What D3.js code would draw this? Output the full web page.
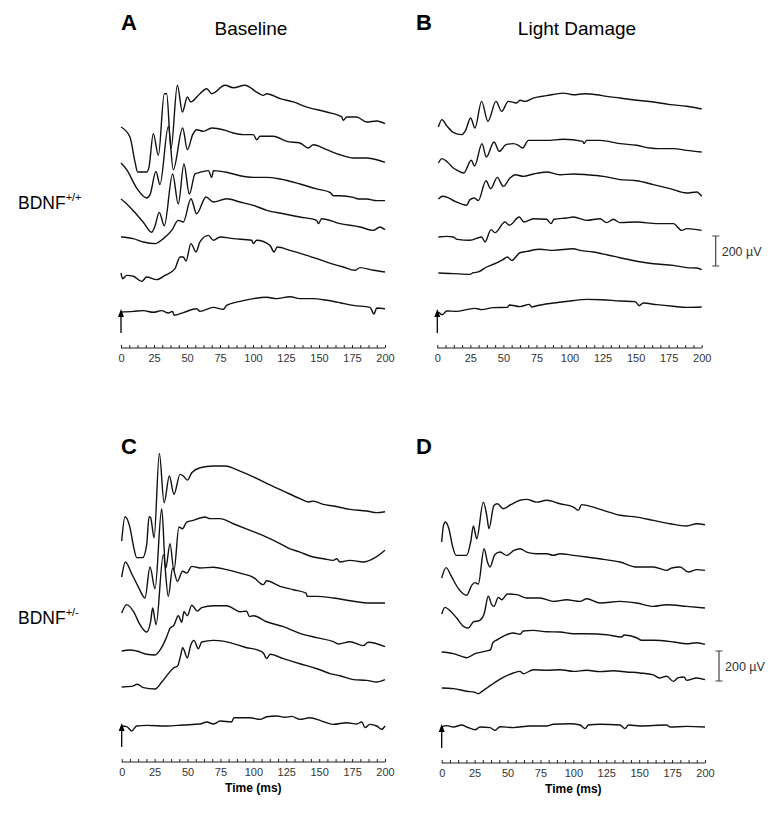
<!DOCTYPE html>
<html>
<head>
<meta charset="utf-8">
<script src="https://cdn.jsdelivr.net/npm/d3@7"></script>
<style>
  body { margin: 0; background: #fff; }
  svg { display: block; font-family: "Liberation Sans", Arial, sans-serif; }
</style>
</head>
<body>
<div id="chart"></div>
<script>
// ERG traces, [time ms, amplitude uV] relative to each trace's start, top trace first

var baselineWT = [
  [[0,0],[6.8,-67],[10.6,-233],[12.6,-300],[19.4,-300],[21.2,-267],[24.5,-44],[28.3,-189],[32.8,222],[34.6,222],[37.9,-144],[42.7,278],[46.5,100],[50.3,200],[52.8,167],[59.8,222],[64.9,255],[68.7,222],[78.8,278],[85.1,262],[93.9,278],[102.8,233],[107.8,211],[110.4,222],[120.5,189],[130.6,167],[140.7,133],[155.8,100],[167.2,67],[168.4,44],[171,67],[178.5,67],[186.1,33],[193.7,40],[200,22]],
  [[0,0],[4.3,-44],[11.9,-167],[19.4,-233],[22,-211],[26.5,-56],[29.5,-144],[35.9,244],[39.6,-44],[46.7,233],[50.3,89],[54.3,189],[57.3,222],[62.4,211],[68.7,233],[77.5,222],[85.1,200],[92.7,189],[100.3,189],[102.8,155],[105.3,178],[115.4,178],[125.5,144],[135.6,133],[141.9,100],[145.7,122],[155.8,89],[165.9,55],[176,33],[186.1,33],[193.7,22],[200,4]],
  [[0,0],[3,-22],[9.3,-78],[16.9,-155],[23.2,-222],[25.8,-178],[29,-89],[32.8,-178],[39.1,167],[43.4,-33],[47.7,233],[51.8,33],[56.1,167],[59.8,178],[66.2,189],[68.7,144],[70,189],[80,178],[90.2,155],[100.3,144],[110.4,144],[120.5,133],[135.6,100],[148.2,67],[158.3,44],[160.9,22],[165.9,22],[176,11],[179.8,0],[186.1,0],[193.7,-11],[200,-11]],
  [[0,0],[9.3,-11],[16.9,-33],[25.8,-44],[32.1,-11],[38.4,44],[43.4,111],[47.2,100],[53,255],[57.3,155],[64.4,267],[70,233],[80,255],[90.2,233],[100.3,211],[110.4,178],[123,155],[135.6,133],[148.2,111],[149.5,89],[152,122],[165.9,89],[181.1,67],[191.2,44],[196.2,67],[200,49]],
  [[0,0],[1.3,-38],[4.3,-16],[9.3,-22],[15.7,-56],[19.4,-27],[27,-44],[33.3,-16],[40.9,29],[44.7,107],[47.2,107],[49.2,80],[53,196],[56.8,140],[59.8,207],[66.2,251],[70,218],[75,240],[85.1,229],[99,218],[100.3,196],[102.8,218],[112.9,184],[115.9,140],[118.4,173],[128,151],[140.7,118],[155.8,73],[168.4,40],[177.3,18],[181.1,36],[191.2,18],[200,7]],
  [[0,0],[9.3,4],[16.9,9],[24.5,-2],[30.8,9],[35.9,-7],[39.1,4],[40.2,-22],[47.2,-4],[57.3,22],[59.8,4],[70,31],[77.5,18],[80,44],[90.2,71],[100.3,89],[110.4,98],[117.9,89],[128,102],[135.6,89],[145.7,89],[155.8,78],[165.9,62],[176,44],[188.6,31],[191.7,-13],[193.7,27],[200,22]]
];

var lightDamageWT = [
  [[0.8,0],[3.5,49],[7.1,9],[12.1,-36],[18.4,-51],[21.4,-22],[25.2,60],[28.5,-7],[33.5,171],[38.3,38],[44.4,171],[48.7,104],[53.7,171],[60,160],[62.5,178],[66.3,171],[72.6,193],[82.7,209],[95.3,226],[102.9,215],[111.7,222],[120.6,215],[128.1,204],[138.2,193],[150.8,178],[163.4,167],[176,149],[188.7,138],[200,120]],
  [[0.8,0],[3.5,29],[7.6,7],[12.1,-33],[15.1,-49],[19.9,-67],[25.7,18],[28.2,-20],[33.8,129],[37.1,40],[42.9,140],[46.9,78],[52,122],[57.5,129],[61.3,118],[64.6,100],[68.9,151],[82.7,151],[95.3,158],[110,144],[111,129],[113,151],[123.1,151],[138.2,129],[150.8,118],[160.9,100],[167.2,96],[178.6,96],[188.7,84],[200,73]],
  [[0.8,0],[4,18],[7.6,11],[13.4,-16],[22.2,-42],[24.7,-4],[28,7],[31,-11],[36.8,122],[40.4,69],[45.4,144],[49.9,84],[55,140],[58.8,162],[65.1,151],[72.6,167],[82.7,180],[92.8,162],[103,167],[113,162],[125.6,151],[138.2,129],[150.8,122],[163.4,96],[176,69],[188.7,40],[196.2,47],[200,18]],
  [[0.8,0],[7.1,4],[12.1,0],[15.1,-16],[24.7,-22],[33.5,0],[36.1,-33],[40.6,49],[43.6,29],[51.2,100],[54.5,78],[62,133],[65.6,100],[72.6,122],[82.7,118],[86,89],[88.3,118],[97.9,127],[102.9,133],[113,111],[123.1,122],[128.1,96],[133.2,118],[138.2,96],[150.8,100],[165.9,89],[178.6,89],[184.9,44],[188.7,56],[200,44]],
  [[0.8,0],[12.1,-4],[24.7,-9],[27.2,2],[31,7],[37.3,40],[44.9,67],[49.9,91],[53,107],[56.2,84],[62.5,135],[67.6,144],[77.7,158],[87.8,151],[102.9,162],[107.9,151],[118,140],[128.1,122],[138.2,102],[150.8,78],[163.4,62],[178.6,51],[188.7,36],[196.2,33],[200,22]],
  [[0.8,0],[3.8,-18],[7.1,7],[14.6,4],[22.2,16],[28.5,24],[33.5,16],[42.4,29],[53,31],[54.5,47],[62.5,36],[69.6,51],[71.4,33],[75.2,42],[87.8,60],[100.4,73],[113,84],[124.3,82],[138.2,73],[149.6,69],[152.8,42],[155.8,60],[165.9,49],[178.6,38],[188.7,31],[200,33]]
];

var baselineHet = [
  [[0,0],[2.5,162],[6.3,89],[8.9,-33],[11.4,-111],[15.9,-111],[19,-22],[20.8,162],[22,155],[24.6,22],[28.6,584],[32.2,255],[36.2,433],[39.7,311],[44.3,444],[46.8,433],[49.9,406],[53.2,455],[59.5,488],[69.6,500],[78.5,500],[89.9,466],[100,428],[110.1,384],[122.8,333],[135.4,282],[141.8,260],[145.6,266],[153.2,244],[160.8,233],[173.4,211],[186.1,200],[193.7,189],[200,195]],
  [[0,0],[2.8,100],[7.6,22],[12.7,-67],[17.7,-140],[21.5,67],[25.3,-78],[30.4,455],[33.4,56],[36.7,222],[39.7,44],[43.5,333],[46.1,322],[49.4,366],[54.4,378],[59.5,393],[63.3,400],[67.1,389],[74.7,389],[84.8,355],[97.5,311],[110.1,266],[122.8,211],[126.6,193],[135.4,166],[145.6,133],[153.2,122],[160.8,111],[163.3,122],[165.8,100],[173.4,111],[183.5,100],[191.1,122],[200,178]],
  [[0,0],[3.8,56],[8.9,11],[13.9,-78],[19,-127],[22,-56],[23.5,33],[26.1,-78],[31.6,389],[35.4,111],[38.7,300],[42.3,211],[46.3,278],[49.4,266],[53.2,311],[59.5,300],[69.6,305],[79.7,289],[89.9,266],[100,238],[107.6,189],[110.1,215],[120.3,178],[130.4,155],[140,133],[141,111],[148.1,111],[160.8,100],[173.4,82],[186.1,67],[200,67]],
  [[0,0],[6.3,7],[11.4,0],[19,-22],[25.3,-27],[29.6,13],[33.7,84],[36.7,151],[39.7,173],[43,235],[45.6,191],[47.3,262],[49.9,235],[53.2,306],[57.5,266],[60.8,289],[69.6,302],[79.7,302],[89.9,262],[94.9,266],[97,229],[100,235],[110.1,195],[122.8,162],[135.4,118],[148.1,89],[160.8,62],[164.6,47],[173.4,62],[183.5,36],[187.3,58],[200,29]],
  [[0,0],[7.6,4],[11.9,18],[16.5,-4],[25.3,-13],[30.4,33],[35.4,89],[39.7,129],[42.3,138],[44.8,211],[46.3,262],[49.9,195],[52.4,278],[54.9,311],[58.2,255],[60.8,300],[69.6,311],[77.2,306],[84.8,289],[94.9,262],[102.5,249],[107.6,226],[110.1,189],[112.7,218],[122.8,189],[135.4,155],[145.6,129],[150.6,115],[158.2,89],[165.8,75],[176,49],[186.1,44],[193.7,33],[200,49]],
  [[0,0],[3.8,-4],[7.6,-33],[11.4,0],[19,4],[34.2,0],[46.8,7],[59.5,13],[64.6,27],[69.6,13],[74.7,33],[83.5,27],[85.3,55],[97.5,55],[105.1,44],[110.1,62],[117.7,67],[124.1,58],[129.1,64],[135.4,44],[143,55],[151.9,33],[160.8,11],[170.9,22],[178.5,13],[182.3,27],[184.8,-11],[188.6,11],[193.7,0],[197.5,-22],[200,0]]
];

var lightDamageHet = [
  [[0,0],[1.3,107],[2.8,133],[5.3,93],[8.4,-33],[10.9,-89],[19,-89],[22,0],[24.1,107],[26.6,22],[31.6,266],[34.2,178],[35.9,89],[39.7,244],[42.3,255],[46.8,222],[52.4,249],[59.5,278],[64.6,284],[72.2,266],[79.7,278],[89.9,255],[100,233],[103.8,211],[106.3,249],[110.1,244],[122.8,211],[135.4,178],[148.1,166],[160.8,144],[173.4,122],[186.1,107],[193.7,122],[200,115]],
  [[0,0],[3.3,69],[7.6,7],[12.7,-71],[19,-115],[22.8,-49],[25.3,-31],[27.8,-40],[32.2,195],[34.9,102],[36.7,73],[40.3,155],[44.3,173],[49.4,151],[54.9,184],[59.5,195],[64.6,173],[72.2,162],[79.7,162],[84.8,151],[89.9,162],[100,151],[110.1,140],[122.8,124],[135.4,107],[148.1,73],[160.8,73],[170.9,51],[174.7,67],[181,73],[187.3,40],[193.7,56],[200,51]],
  [[0,0],[2.5,44],[6.3,22],[11.4,-27],[16.5,-82],[20.3,-93],[24.1,-53],[28.6,-44],[32.2,0],[35.4,118],[38,62],[39.7,51],[43,111],[45.6,95],[49.9,133],[57,129],[64.6,107],[74.7,107],[84.8,84],[94.9,95],[105.1,84],[110.1,102],[120.3,73],[135.4,84],[148.1,73],[160.8,51],[170.9,62],[186.1,51],[200,40]],
  [[0,0],[8.9,-11],[15.2,-29],[19,-38],[25.3,-11],[34.2,7],[37.2,16],[38.7,60],[42.3,82],[48.1,111],[54.4,127],[59.5,118],[62,140],[69.6,144],[79.7,135],[89.9,133],[100,122],[110.1,122],[125.3,115],[136.7,100],[138.5,113],[148.1,95],[151.9,78],[160.8,78],[176,67],[186.1,55],[193.7,62],[200,51]],
  [[0,0],[8.9,-4],[19,-22],[25.3,-29],[27.8,-38],[30.4,-24],[35.4,7],[40.5,38],[46.8,71],[54.4,100],[59.5,111],[62,95],[69.6,122],[79.7,118],[89.9,122],[100,111],[110.1,118],[120.3,109],[130.4,115],[140.5,107],[150.6,100],[160.8,87],[165.3,67],[170.9,78],[176,44],[179.7,69],[184,73],[186.1,51],[193.7,67],[200,56]],
  [[0,0],[3.8,9],[8.9,0],[15.2,13],[19,0],[25.3,-18],[29.1,0],[36.7,-4],[40.5,-22],[44.3,2],[54.4,-4],[67.1,7],[79.7,7],[84.8,18],[97.5,22],[105.1,13],[108.9,-11],[111.4,13],[120.3,18],[135.4,13],[139.2,-11],[141.8,13],[150.6,7],[170.9,13],[173.4,0],[186.1,4],[200,0]]
];

var timeTicks = [0, 25, 50, 75, 100, 125, 150, 175, 200];
var scaleBarUV = 200;

// layout
var W = 779, H = 814;
var pxPer200uV = 30;
var traceLift = [221, 185, 149, 111, 75, 36];   // px above the time axis where each trace starts

var panels = [
  { letter: "A", data: baselineWT,     x0: 121,   x1: 385,   axisY: 348, bar: false, timeLabel: false },
  { letter: "B", data: lightDamageWT,  x0: 437.3, x1: 701.7, axisY: 348, bar: true,  timeLabel: false },
  { letter: "C", data: baselineHet,    x0: 121.7, x1: 385,   axisY: 762, bar: false, timeLabel: true },
  { letter: "D", data: lightDamageHet, x0: 441.7, x1: 705,   axisY: 763, bar: true,  timeLabel: true }
];

var svg = d3.select("#chart").append("svg")
  .attr("width", W)
  .attr("height", H);

var drawPanel = function(p)
{
  var g = svg.append("g");
  var x = d3.scaleLinear().domain([0, 200]).range([p.x0, p.x1]);

  p.data.forEach(function(trace, i){
    var base = p.axisY - traceLift[i];
    var y = d3.scaleLinear().domain([0, scaleBarUV]).range([base, base - pxPer200uV]);
    var line = d3.line()
      .curve(d3.curveMonotoneX)
      .x(function(d){ return x(d[0]); })
      .y(function(d){ return y(d[1]); });
    g.append("path")
      .attr("d", line(trace))
      .style("fill", "none")
      .style("stroke", "#111")
      .style("stroke-width", 1.4)
      .style("stroke-linejoin", "round");
  });

  // flash marker (arrow pointing up)
  var ax0 = x(0);
  g.append("line")
    .attr("x1", ax0).attr("x2", ax0)
    .attr("y1", p.axisY - 15).attr("y2", p.axisY - 32)
    .style("stroke", "#000")
    .style("stroke-width", 1.3);
  g.append("path")
    .attr("d", "M" + ax0 + "," + (p.axisY - 39) + "L" + (ax0 + 3) + "," + (p.axisY - 31) +
               "L" + (ax0 - 3) + "," + (p.axisY - 31) + "Z")
    .style("fill", "#000");

  // time axis
  var minor = g.append("g")
    .attr("transform", "translate(0," + p.axisY + ")")
    .call(d3.axisTop(x).tickValues(d3.range(0, 200.1, 6.25)).tickSize(3).tickFormat(""));
  minor.select(".domain").remove();
  minor.selectAll("line").style("stroke", "#222");

  var ax = g.append("g")
    .attr("transform", "translate(0," + p.axisY + ")")
    .call(d3.axisBottom(x).tickValues(timeTicks).tickSize(0).tickPadding(6));
  ax.select(".domain").attr("d", "M" + x(0) + ",0H" + x(200)).style("stroke", "#222").style("stroke-width", 1.2);
  ax.selectAll("text")
    .style("font-family", "'Liberation Sans', Arial, sans-serif")
    .style("font-size", "11px")
    .style("fill", "#333");

  if(p.timeLabel)
  {
    g.append("text")
      .attr("x", (p.x0 + p.x1) / 2)
      .attr("y", p.axisY + 30)
      .style("text-anchor", "middle")
      .style("font-size", "12px")
      .style("font-weight", "bold")
      .text("Time (ms)");
  }

  if(p.bar)
  {
    var barX = p.x1 + 14;
    var barBottom = p.axisY - 82;
    g.append("path")
      .attr("d", "M" + (barX - 3.5) + "," + (barBottom - pxPer200uV) + "H" + (barX + 3.5) +
                 "M" + barX + "," + (barBottom - pxPer200uV) + "V" + barBottom +
                 "M" + (barX - 3.5) + "," + barBottom + "H" + (barX + 3.5))
      .style("stroke", "#444")
      .style("stroke-width", 1.2)
      .style("fill", "none");
    g.append("text")
      .attr("x", barX + 6)
      .attr("y", barBottom - pxPer200uV / 2 + 4.5)
      .style("font-size", "12.5px")
      .style("fill", "#333")
      .text(scaleBarUV + " \u00b5V");
  }
}

panels.forEach(drawPanel);

// panel letters and headings
var letters = [
  { t: "A", x: 121, y: 30 },
  { t: "B", x: 416, y: 30 },
  { t: "C", x: 121, y: 454 },
  { t: "D", x: 416, y: 454 }
];
svg.selectAll(".letter").data(letters).enter()
  .append("text")
  .attr("class", "letter")
  .attr("x", function(d){ return d.x; })
  .attr("y", function(d){ return d.y; })
  .style("font-size", "22px")
  .style("font-weight", "bold")
  .text(function(d){ return d.t; });

svg.append("text").attr("x", 251).attr("y", 35)
  .style("text-anchor", "middle").style("font-size", "19px").text("Baseline");
svg.append("text").attr("x", 577).attr("y", 35)
  .style("text-anchor", "middle").style("font-size", "19px").text("Light Damage");

var genotypes = [
  { main: "BDNF", sup: "+/+", y: 209 },
  { main: "BDNF", sup: "+/-", y: 624 }
];
genotypes.forEach(function(d){
  var t = svg.append("text").attr("x", 18).attr("y", d.y).style("font-size", "17.5px");
  t.append("tspan").text(d.main);
  t.append("tspan").attr("dy", -8).style("font-size", "11px").text(d.sup);
});
</script>
</body>
</html>
